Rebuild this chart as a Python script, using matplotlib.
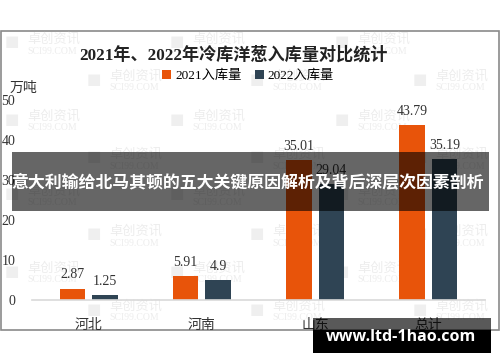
import matplotlib
matplotlib.use("Agg")
import matplotlib.pyplot as plt
from matplotlib.patches import Rectangle
import numpy as np

plt.rcParams['font.family'] = ['Liberation Serif', 'Noto Sans CJK SC', 'DejaVu Sans']

categories = ['河北', '河南', '山东', '总计']
vals_2021 = [2.87, 5.91, 35.01, 43.79]
vals_2022 = [1.25, 4.9, 29.04, 35.19]
labels_2022 = ['1.25', '4.9', '29.04', '35.19']
series_names = ['2021入库量', '2022入库量']
title = '2021年、2022年冷库洋葱入库量对比统计'
banner = '意大利输给北马其顿的五大关键原因解析及背后深层次因素剖析'
site = 'www.ltd-1hao.com'

W, H = 500, 362
c21 = '#e8540a'
c22 = '#2f4454'

fig = plt.figure(figsize=(5, 3.62), dpi=100)

def fx(px):
    return px / W

def fy(py):
    return 1 - py / H

# chart frame
fig.patches.append(Rectangle((fx(0.5), fy(330)), fx(498.5), (330 - 31) / H,
                             transform=fig.transFigure, fill=False,
                             edgecolor='#8a8a8a', lw=1.2, zorder=-2))

# watermarks (behind the plot)
wm_rows = [43, 80, 120, 158, 195, 235, 272, 310]
for i, yy in enumerate(wm_rows):
    xs = [5, 170, 335] if i % 2 == 0 else [87, 250, 413]
    for xx in xs:
        fig.text(fx(xx), fy(yy - 1), '■', fontsize=11, color='#efefef',
                 family=['DejaVu Sans'], va='center', ha='left', zorder=-1)
        fig.text(fx(xx + 22), fy(yy - 4), '卓创资讯', fontsize=9.5, color='#ededed',
                 family=['Noto Sans CJK SC'], va='center', ha='left', zorder=-1)
        fig.text(fx(xx + 22), fy(yy + 8), 'SCI99.COM', fontsize=7, color='#ededed',
                 va='center', ha='left', zorder=-1)

ax = fig.add_axes([fx(32), fy(300), fx(485 - 32), (300 - 100) / H])
ax.patch.set_alpha(0)
x = np.arange(len(categories))
bw = 0.225
gap = 0.03
b1 = ax.bar(x - bw / 2 - gap, vals_2021, bw, color=c21, label=series_names[0], zorder=2)
b2 = ax.bar(x + bw / 2 + gap, vals_2022, bw, color=c22, label=series_names[1], zorder=2)
for rect, v in zip(b1, vals_2021):
    ax.text(rect.get_x() + rect.get_width() / 2, v + 1.8, f'{v:.2f}',
            ha='center', va='bottom', fontsize=10, color='#333333')
for rect, v, s in zip(b2, vals_2022, labels_2022):
    ax.text(rect.get_x() + rect.get_width() / 2, v + 1.8, s,
            ha='center', va='bottom', fontsize=10, color='#333333')

ax.set_xlim(-0.5, 3.5)
ax.set_ylim(0, 50)
ax.set_yticks([0, 10, 20, 30, 40, 50])
ax.set_xticks(x)
ax.set_xticklabels(categories, fontsize=10, family=['Noto Sans CJK SC'])
ax.tick_params(axis='both', length=0, labelsize=10, colors='#333333')
ax.tick_params(axis='y', pad=12)
ax.tick_params(axis='x', pad=13)
for sp in ['top', 'right', 'left']:
    ax.spines[sp].set_visible(False)
ax.spines['bottom'].set_color('#d9d9d9')
ax.spines['bottom'].set_linewidth(1.2)

fig.text(fx(10), fy(88), '万吨', fontsize=10, family=['Noto Sans CJK SC'],
         va='center', ha='left', color='#333333')
fig.text(fx(234), fy(55), title, fontsize=12.3, fontweight='bold',
         family=['Liberation Serif', 'Noto Sans CJK SC'], ha='center', va='center', color='#222222')
fig.legend(handles=[b1, b2], loc='center', bbox_to_anchor=(fx(248), fy(76)),
           ncol=2, frameon=False, handlelength=0.7, handleheight=0.7,
           handletextpad=0.3, columnspacing=1.0,
           prop={'family': ['Liberation Serif', 'Noto Sans CJK SC'], 'size': 9.5})

# overlay banner
fig.patches.append(Rectangle((fx(12), fy(211)), fx(489 - 12), (211 - 152) / H,
                             transform=fig.transFigure, facecolor='black', alpha=0.6,
                             edgecolor='none', zorder=10))
fig.text(fx(248), fy(182), banner, fontsize=12.2, fontweight='bold', color='white',
         family=['Noto Sans CJK SC'], ha='center', va='center', zorder=11)

# site banner
fig.patches.append(Rectangle((fx(313), fy(330)), fx(491 - 313), (330 - 318) / H,
                             transform=fig.transFigure, facecolor='black', alpha=0.65,
                             edgecolor='none', zorder=10))
fig.patches.append(Rectangle((fx(313), fy(353)), fx(491 - 313), (353 - 330) / H,
                             transform=fig.transFigure, facecolor='black',
                             edgecolor='none', zorder=10))
fig.text(fx(401), fy(337), site, fontsize=11.5, fontweight='bold', color='white',
         family=['Open Sans', 'DejaVu Sans'], ha='center', va='center', zorder=11)

fig.savefig('out.png', dpi=100)
